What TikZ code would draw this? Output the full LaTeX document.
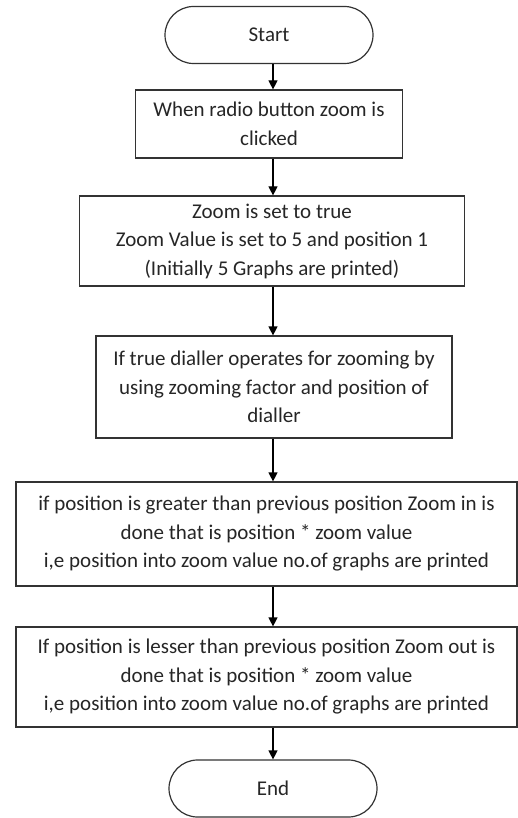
\documentclass[tikz,border=0pt]{standalone}
\usepackage{fontspec}
\setmainfont{Carlito}
\usepackage{tikz}
\usetikzlibrary{arrows.meta,shapes.misc}

\begin{document}
\begin{tikzpicture}[x=1pt,y=-1pt,
    box/.style={draw=black!80,line width=1.2pt,fill=white,align=center,
        inner sep=0pt,font=\fontsize{21}{28.5}\selectfont,text=black!85},
    terminal/.style={box,rounded rectangle,minimum width=208pt,minimum height=57pt},
    flow/.style={-{Triangle[length=9pt,width=9pt]},draw=black,line width=1.2pt}]
    \useasboundingbox (0,0) rectangle (518,818);

    \node[terminal] (start) at (269,35) {Start};

    \node[box,minimum width=267pt,minimum height=68pt] (clicked) at (269,124)
        {When radio button zoom is\\clicked};

    \node[box,minimum width=385pt,minimum height=90pt] (settrue) at (272,241)
        {Zoom is set to true\\Zoom Value is set to 5 and position 1\\(Initially 5 Graphs are printed)};

    \node[box,minimum width=356pt,minimum height=102pt] (dialler) at (274,387)
        {If true dialler operates for zooming by\\using zooming factor and position of\\dialler};

    \node[box,minimum width=501pt,minimum height=104pt] (zoomin) at (266.5,534)
        {if position is greater than previous position Zoom in is\\done that is position * zoom value\\i,e position into zoom value no.of graphs are printed};

    \node[box,minimum width=501pt,minimum height=100pt] (zoomout) at (266.5,677)
        {If position is lesser than previous position Zoom out is\\done that is position * zoom value\\i,e position into zoom value no.of graphs are printed};

    \node[terminal] (end) at (273,788.5) {End};

    \draw[flow] ([xshift=4pt]start.south) -- ([xshift=4pt]start.south |- clicked.north);
    \draw[flow] ([xshift=4pt]clicked.south) -- ([xshift=4pt]clicked.south |- settrue.north);
    \draw[flow] ([xshift=1pt]settrue.south) -- ([xshift=1pt]settrue.south |- dialler.north);
    \draw[flow] ([xshift=-1pt]dialler.south) -- ([xshift=-1pt]dialler.south |- zoomin.north);
    \draw[flow] (end.north |- zoomin.south) -- (end.north |- zoomout.north);
    \draw[flow] (end.north |- zoomout.south) -- (end.north);
\end{tikzpicture}
\end{document}
